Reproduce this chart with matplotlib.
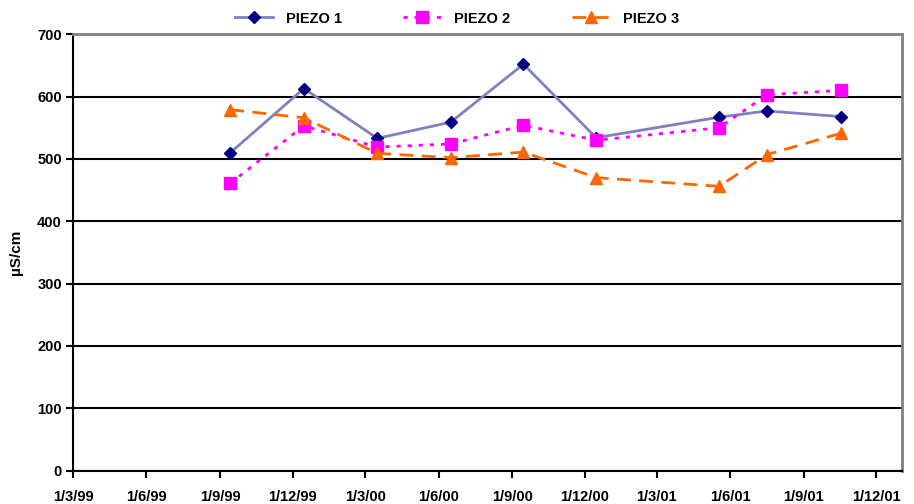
import matplotlib.pyplot as plt
import numpy as np
import datetime as dt

plt.rcParams['font.family'] = ['Liberation Sans', 'DejaVu Sans']
plt.rcParams['font.weight'] = 'bold'

# sampling dates (mid month)
dates = [dt.date(1999, 9, 14), dt.date(1999, 12, 15), dt.date(2000, 3, 16),
         dt.date(2000, 6, 16), dt.date(2000, 9, 15), dt.date(2000, 12, 15),
         dt.date(2001, 5, 18), dt.date(2001, 7, 17), dt.date(2001, 10, 17)]

piezo1 = [510, 613, 533, 559, 652, 534, 567, 577, 568]
piezo2 = [461, 553, 519, 524, 554, 530, 550, 603, 610]
piezo3 = [579, 566, 509, 502, 511, 470, 456, 507, 541]

tick_dates = [dt.date(1999, 3, 1), dt.date(1999, 6, 1), dt.date(1999, 9, 1),
              dt.date(1999, 12, 1), dt.date(2000, 3, 1), dt.date(2000, 6, 1),
              dt.date(2000, 9, 1), dt.date(2000, 12, 1), dt.date(2001, 3, 1),
              dt.date(2001, 6, 1), dt.date(2001, 9, 1), dt.date(2001, 12, 1)]
tick_labels = ['1/3/99', '1/6/99', '1/9/99', '1/12/99', '1/3/00', '1/6/00',
               '1/9/00', '1/12/00', '1/3/01', '1/6/01', '1/9/01', '1/12/01']

fig = plt.figure(figsize=(9.14, 5.04), dpi=100)
ax = fig.add_axes([73 / 914, 1 - 470.5 / 504, (902 - 73) / 914, (470.5 - 34.3) / 504])

ax.plot(dates, piezo1, color='#8080C0', lw=2, marker='D', ms=6,
        mfc='#000080', mec='#000080', label='PIEZO 1', zorder=3)
ax.plot(dates, piezo2, color='#FF00FF', lw=2, ls=(0, (1.5, 2.5)), marker='s', ms=8,
        mfc='#FF00FF', mec='#FF00FF', label='PIEZO 2', zorder=3)
ax.plot(dates, piezo3, color='#FF6600', lw=2, ls=(0, (5, 3)), marker='^', ms=8,
        mfc='#FF6600', mec='#FF6600', label='PIEZO 3', zorder=3)

ax.set_ylim(0, 700)
ax.set_yticks(np.arange(0, 701, 100))
ax.set_xlim(dt.date(1999, 3, 1), dt.date(2002, 1, 2))
ax.set_xticks(tick_dates)
ax.set_xticklabels(tick_labels)
ax.yaxis.grid(True, color='black', lw=1.5)
ax.set_axisbelow(True)

ax.spines['left'].set_color('black')
ax.spines['bottom'].set_color('black')
ax.spines['left'].set_linewidth(1.5)
ax.spines['bottom'].set_linewidth(1.5)
ax.spines['top'].set_color('#808080')
ax.spines['right'].set_color('#808080')
ax.spines['top'].set_linewidth(2)
ax.spines['right'].set_linewidth(2)

ax.tick_params(axis='both', direction='out', length=5, width=1.5, labelsize=10.5)
ax.tick_params(axis='x', pad=9)
ax.tick_params(axis='y', pad=3)

ax.set_ylabel('µS/cm', fontsize=11, fontweight='bold', labelpad=10)

ax.legend(loc='lower center', bbox_to_anchor=(0.463, 1.0), ncol=3, frameon=False,
          columnspacing=4.2, handlelength=2.6, handletextpad=0.9, borderaxespad=0.2,
          prop={'weight': 'bold', 'size': 10.5})

fig.savefig('out.png', dpi=100)
